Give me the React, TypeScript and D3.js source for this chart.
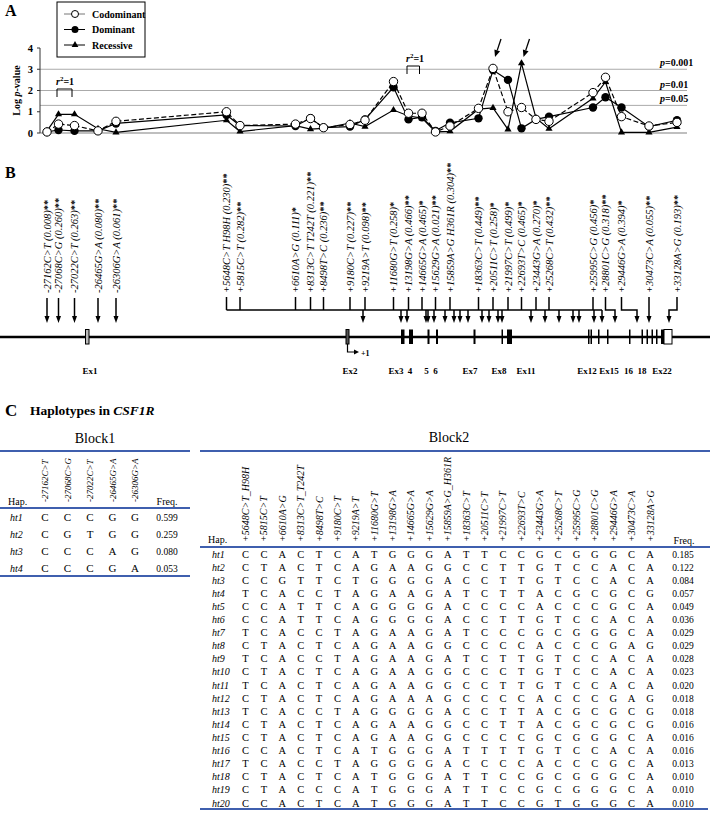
import React from "react";
import * as d3 from "d3";

// ---------- DATA ----------
// Panel A / B: 28 SNPs (block1: 5, block2: 23), positions along the schematic track
const snpTrackPos = [47, 58.5, 74.5, 98, 116, 226.5, 240, 295.5, 310.5, 323.5, 350, 365, 393.5, 408.5, 422, 435.5, 450, 478.5, 493, 508, 521.5, 536, 549, 593, 605.5, 621.5, 649, 677];
const codominant = [0.05, 0.42, 0.35, 0.1, 0.55, 1.0, 0.35, 0.42, 0.68, 0.25, 0.4, 0.6, 2.42, 0.93, 0.93, 0.05, 0.33, 1.16, 3.04, 1.0, 1.2, 0.64, 0.55, 1.9, 2.62, 0.77, 0.33, 0.5];
const dominant = [0.05, 0.14, 0.1, 0.1, 0.45, 0.85, 0.35, 0.33, 0.7, 0.25, 0.3, 0.64, 2.15, 0.64, 0.74, 0.1, 0.48, 0.69, 2.96, 2.5, 0.22, 0.64, 0.77, 1.2, 1.68, 1.2, 0.3, 0.6];
const recessive = [0.1, 0.88, 0.88, 0.2, 0.03, 0.6, 0.07, 0.35, 0.18, 0.22, 0.47, 0.3, 1.08, 0.8, 0.7, 0.05, 0.08, 1.12, 1.18, 0.17, 3.28, 0.7, 0.2, 1.63, 2.4, 0.03, 0.03, 0.28];
const yTicks = [0, 1, 2, 3, 4];
const pLines = [{ v: 3, label: "0.001" }, { v: 2, label: "0.01" }, { v: 1.3, label: "0.05" }];
const ldPairs = [[1, 2], [13, 14]];
const highlighted = [{ i: 18, series: "codominant" }, { i: 20, series: "recessive" }];

const bAlleles = ["-27162C>T", "-27068C>G", "-27022C>T", "-26465G>A", "-26306G>A", "+5648C>T H98H", "+5815C>T", "+6610A>G", "+8313C>T T242T", "+8498T>C", "+9180C>T", "+9219A>T", "+11680G>T", "+13198G>A", "+14665G>A", "+15629G>A", "+15859A>G H361R", "+18363C>T", "+20511C>T", "+21997C>T", "+22693T>C", "+23443G>A", "+25268C>T", "+25995C>G", "+28801C>G", "+29446G>A", "+30473C>A", "+33128A>G"];
const maf = [0.008, 0.260, 0.263, 0.080, 0.061, 0.230, 0.282, 0.111, 0.221, 0.236, 0.227, 0.098, 0.258, 0.466, 0.465, 0.021, 0.304, 0.449, 0.258, 0.499, 0.465, 0.270, 0.432, 0.456, 0.318, 0.394, 0.055, 0.193];
const stars = ["**", "**", "**", "**", "**", "**", "**", "*", "**", "**", "**", "**", "*", "**", "*", "**", "**", "**", "*", "*", "*", "*", "**", "*", "**", "*", "**", "**"];
// positions of the arrows on the gene for block2 SNPs
const geneArrowPos = [363, 401, 407, 426, 428, 434, 445, 454, 460, 468, 482, 489, 498, 502, 531, 545, 559, 573, 579, 594, 602, 615, 637, 649, 669];
// exons: [start, end, fill]
const exons: [number, number, string][] = [
  [85.5, 89, "#bbb"], [346, 349, "#555"], [401, 404.5, "#000"], [409, 413, "#000"], [427.5, 429.5, "#000"], [436, 438, "#000"],
  [473.5, 475.5, "#000"], [501.5, 503, "#000"], [507, 512, "#000"], [588, 589.5, "#000"], [590.5, 592, "#000"], [598, 599.5, "#000"],
  [607, 608.5, "#000"], [629, 630.5, "#000"], [641.5, 643, "#000"], [646.5, 648, "#000"], [651.5, 653, "#000"], [656, 657.5, "#000"],
  [661, 664, "#000"], [664, 672, "#fff"],
];
const exonLabels: [string, number][] = [["Ex1", 90], ["Ex2", 350], ["Ex3", 396], ["4", 410], ["5", 426.5], ["6", 435.5], ["Ex7", 470], ["Ex8", 499], ["Ex11", 526], ["Ex12", 587], ["Ex15", 609], ["16", 628.5], ["18", 642], ["Ex22", 662]];

// Panel C
const block1Snps = ["-27162C>T", "-27068C>G", "-27022C>T", "-26465G>A", "-26306G>A"];
const block1Haps = ["CCCGG", "CGTGG", "CCCAG", "CCCGA"];
const block1Freq = [0.599, 0.259, 0.080, 0.053];
const block2Snps = ["+5648C>T_H98H", "+5815C>T", "+6610A>G", "+8313C>T_T242T", "+8498T>C", "+9180C>T", "+9219A>T", "+11680G>T", "+13198G>A", "+14665G>A", "+15629G>A", "+15859A>G_H361R", "+18363C>T", "+20511C>T", "+21997C>T", "+22693T>C", "+23443G>A", "+25268C>T", "+25995C>G", "+28801C>G", "+29446G>A", "+30473C>A", "+33128A>G"];
const block2Haps = [
  "CCACTCATGGGATTCCGCGGGCA", "CTACTCAGAAGGCCTTGTCCACA", "CCGTTCTGGGGACCTTGTCCACA", "TCACCTAGAAGATCTTACGCGCG",
  "CCATTCAGGGGACCCCACCCGCA", "CCATTCAGGGGACCTTGTCCACA", "TCACCTAGAAGATCCCGCGGGCA", "CTACTCAGAAGGCCCCACCCGAG",
  "TCACCTAGAAGATCTTGTCCACA", "CTACTCAGAAGGCCCTGTCCACA", "TCACTCAGAAGGCCTTGTCCACA", "CTACTCAGAAAGCCCCACCCGAG",
  "TCACCTAGGGGACCTTACGCGCG", "CTACTCAGAAGGCCTTACGCGCG", "CTACTCAGAAGGCCCCGCGGGCA", "CCACTCATGGGATTTTGTCCACA",
  "TCACCTAGGGGACCCCACCCGCA", "CTACTCATGGGATTCCGCGGGCA", "CTACCCATGGGATTCCGCGGGCA", "CCACTCATGGGATTCCGTGGGCA",
];
const block2Freq = [0.185, 0.122, 0.084, 0.057, 0.049, 0.036, 0.029, 0.029, 0.028, 0.023, 0.020, 0.018, 0.018, 0.016, 0.016, 0.016, 0.013, 0.010, 0.010, 0.010];

// ---------- DRAWING ----------
const serif = "'Liberation Serif', 'Times New Roman', serif";
const blue = "#3f5fae";
const fmt3 = d3.format(".3f");

function arrowHead(x: number, y: number, w = 5, h = 7) {
  return `M${x - w / 2},${y - h}L${x + w / 2},${y - h}L${x},${y}Z`;
}

export default function App() {
  const x = d3.scaleLinear().domain([0, 710]).range([0, 710]);
  const y = d3.scaleLinear().domain([0, 4]).range([133, 48]);
  const idx = d3.range(snpTrackPos.length);
  const mkLine = (vals: number[]) => d3.line<number>().x(i => x(snpTrackPos[i])).y(i => y(vals[i]))(idx) || "";
  const tri = d3.symbol(d3.symbolTriangle, 22)() || "";
  const triLegend = d3.symbol(d3.symbolTriangle, 20)() || "";

  const nB1 = 5;
  const barY = 310;
  const b2Count = bAlleles.length - nB1;
  // last 4 block2 labels connect to the last 4 gene arrows via connectors
  const connectedStart = b2Count - 4;

  const c1x = d3.scaleLinear().domain([0, block1Snps.length - 1]).range([45, 135]);
  const r1y = d3.scaleLinear().domain([0, block1Haps.length - 1]).range([517, 568]);
  const c2x = d3.scaleLinear().domain([0, block2Snps.length - 1]).range([245.5, 650]);
  const r2y = d3.scaleLinear().domain([0, block2Haps.length - 1]).range([554, 803]);

  return (
    <svg width={710} height={823} style={{ position: "absolute", left: 0, top: 0, background: "#fff" }} fontFamily={serif}>
      <rect width={710} height={823} fill="#fff" />
      {/* ---------------- Panel A ---------------- */}
      <text x={5} y={16} fontSize={16} fontWeight="bold">A</text>
      {pLines.map(p => (
        <line key={p.v} x1={x(40)} x2={x(687)} y1={y(p.v)} y2={y(p.v)} stroke="#aaa" strokeWidth={1} />
      ))}
      <line x1={x(40)} x2={x(687)} y1={y(0)} y2={y(0)} stroke="#aaa" strokeWidth={1.6} />
      {pLines.map(p => (
        <text key={"pl" + p.v} x={660} y={y(p.v) - 3} fontSize={10} fontWeight="bold">
          <tspan fontStyle="italic">p</tspan>={p.label}
        </text>
      ))}
      <line x1={40} x2={40} y1={y(4)} y2={y(0)} stroke="#333" strokeWidth={1} />
      {yTicks.map(t => (
        <g key={t}>
          <line x1={37} x2={40} y1={y(t)} y2={y(t)} stroke="#333" />
          <text x={33} y={y(t) + 3.5} fontSize={10.5} fontWeight="bold" textAnchor="end">{t}</text>
        </g>
      ))}
      <text transform={`translate(20,${y(2)}) rotate(-90)`} fontSize={10} fontWeight="bold" textAnchor="middle">
        Log <tspan fontStyle="italic">p</tspan>-value
      </text>
      <path d={mkLine(dominant)} fill="none" stroke="#000" strokeWidth={1.2} />
      <path d={mkLine(recessive)} fill="none" stroke="#000" strokeWidth={1.2} />
      <path d={mkLine(codominant)} fill="none" stroke="#000" strokeWidth={1.2} strokeDasharray="5,2.5" />
      {idx.map(i => (
        <circle key={"d" + i} cx={x(snpTrackPos[i])} cy={y(dominant[i])} r={4.2} fill="#000" />
      ))}
      {idx.map(i => (
        <path key={"r" + i} d={tri} transform={`translate(${x(snpTrackPos[i])},${y(recessive[i])})`} fill="#000" />
      ))}
      {idx.map(i => (
        <circle key={"c" + i} cx={x(snpTrackPos[i])} cy={y(codominant[i])} r={4.2} fill="#fff" stroke="#000" strokeWidth={1} />
      ))}
      {ldPairs.map(([a, b], k) => {
        const x0 = x(snpTrackPos[a]) - 1.5, x1 = x(snpTrackPos[b]) - 2.5;
        const top = k === 0 ? 89 : 66;
        return (
          <g key={"ld" + k}>
            <path d={`M${x0},${top + 8}V${top}H${x1}V${top + 8}`} fill="none" stroke="#000" strokeWidth={1} />
            <text x={x0 - 1} y={top - 4} fontSize={10} fontWeight="bold">
              <tspan fontStyle="italic">r</tspan><tspan fontSize={7} dy={-4}>2</tspan><tspan dy={4}>=1</tspan>
            </text>
          </g>
        );
      })}
      {highlighted.map((h, k) => {
        const px = x(snpTrackPos[h.i]) + 2;
        const tipY = 57;
        const sx = px + 6, sy = 39;
        const ang = Math.atan2(tipY - sy, px - sx);
        const hl = 7, hw = 3;
        const bx = px - hl * Math.cos(ang), by = tipY - hl * Math.sin(ang);
        const nx = -Math.sin(ang) * hw, ny = Math.cos(ang) * hw;
        return (
          <g key={"ha" + k}>
            <line x1={sx} y1={sy} x2={bx} y2={by} stroke="#000" strokeWidth={1.3} />
            <path d={`M${px},${tipY}L${bx + nx},${by + ny}L${bx - nx},${by - ny}Z`} fill="#000" />
          </g>
        );
      })}
      <rect x={57} y={2} width={88} height={55} fill="#fff" stroke="#000" strokeWidth={1} />
      {["Codominant", "Dominant", "Recessive"].map((name, k) => {
        const ly = 14 + k * 15.5;
        return (
          <g key={name}>
            <line x1={64} x2={85} y1={ly} y2={ly} stroke={k === 0 ? "#777" : "#000"} strokeWidth={1} />
            {k === 0 && <circle cx={75} cy={ly} r={3.5} fill="#fff" stroke="#000" />}
            {k === 1 && <circle cx={75} cy={ly} r={3.5} fill="#000" />}
            {k === 2 && <path d={triLegend} transform={`translate(75,${ly})`} fill="#000" />}
            <text x={92} y={ly + 3.5} fontSize={10} fontWeight="bold">{name}</text>
          </g>
        );
      })}

      {/* ---------------- Panel B ---------------- */}
      <text x={5} y={178} fontSize={16} fontWeight="bold">B</text>
      {bAlleles.map((a, i) => (
        <text key={"bl" + i} transform={`translate(${x(snpTrackPos[i]) + 3.5},293) rotate(-90)`} fontSize={10.5}>
          <tspan fontStyle="italic">{a} ({fmt3(maf[i])})</tspan><tspan fontWeight="bold">{stars[i]}</tspan>
        </text>
      ))}
      {d3.range(nB1).map(i => (
        <g key={"ba" + i}>
          <line x1={x(snpTrackPos[i])} x2={x(snpTrackPos[i])} y1={298} y2={317} stroke="#000" strokeWidth={1.5} />
          <path d={arrowHead(x(snpTrackPos[i]), 323)} fill="#000" />
        </g>
      ))}
      <line x1={x(snpTrackPos[nB1])} x2={x(geneArrowPos[20])} y1={barY} y2={barY} stroke="#000" strokeWidth={1.5} />
      {d3.range(b2Count).map(j => {
        const i = nB1 + j;
        const lx = x(snpTrackPos[i]);
        if (j < connectedStart) {
          return <line key={"bt" + j} x1={lx} x2={lx} y1={297} y2={barY} stroke="#000" strokeWidth={1.5} />;
        }
        const ax = x(geneArrowPos[geneArrowPos.length - (b2Count - j)]);
        return (
          <path key={"bt" + j} d={`M${lx},297V${barY}H${ax}V317`} fill="none" stroke="#000" strokeWidth={1.5} />
        );
      })}
      {geneArrowPos.map((g, k) => (
        <g key={"ga" + k}>
          {k < geneArrowPos.length - 4 && <line x1={x(g)} x2={x(g)} y1={barY} y2={317} stroke="#000" strokeWidth={1.5} />}
          <path d={arrowHead(x(g), 323)} fill="#000" />
        </g>
      ))}
      <line x1={0} x2={710} y1={337} y2={337} stroke="#000" strokeWidth={2.5} />
      {exons.map(([s, e, f], k) => (
        <rect key={"ex" + k} x={x(s)} y={329.5} width={x(e) - x(s)} height={14.5} fill={f} stroke="#000" strokeWidth={f === "#000" ? 0 : 1} />
      ))}
      <path d={`M${x(347.5)},344V352H${x(355)}`} fill="none" stroke="#000" strokeWidth={1.2} />
      <path d={`M${x(359)},352L${x(354)},349.5L${x(354)},354.5Z`} fill="#000" />
      <text x={x(361)} y={356} fontSize={8} fontWeight="bold">+1</text>
      {exonLabels.map(([t, c]) => (
        <text key={t} x={x(c)} y={374} fontSize={9} fontWeight="bold" textAnchor="middle">{t}</text>
      ))}

      {/* ---------------- Panel C ---------------- */}
      <text x={5} y={416} fontSize={17} fontWeight="bold">C</text>
      <text x={30} y={415} fontSize={13.5} fontWeight="bold">
        Haplotypes in <tspan fontStyle="italic">CSF1R</tspan>
      </text>
      <text x={95} y={443} fontSize={14} textAnchor="middle">Block1</text>
      <line x1={0} x2={190} y1={451} y2={451} stroke={blue} strokeWidth={1.8} />
      {block1Snps.map((s, k) => (
        <text key={"h1" + k} transform={`translate(${c1x(k) + 3},502) rotate(-90)`} fontSize={9} fontStyle="italic">{s}</text>
      ))}
      <text x={8} y={505} fontSize={10}>Hap.</text>
      <text x={167} y={505} fontSize={10} textAnchor="middle">Freq.</text>
      <line x1={0} x2={190} y1={508} y2={508} stroke={blue} strokeWidth={1.8} />
      {block1Haps.map((h, r) => (
        <g key={"r1" + r}>
          <text x={10} y={r1y(r) + 3.5} fontSize={10} fontStyle="italic">ht{r + 1}</text>
          {h.split("").map((ch, c) => (
            <text key={c} x={c1x(c)} y={r1y(r) + 3.5} fontSize={11} textAnchor="middle">{ch}</text>
          ))}
          <text x={167} y={r1y(r) + 3.5} fontSize={9.5} textAnchor="middle">{fmt3(block1Freq[r])}</text>
        </g>
      ))}
      <line x1={0} x2={190} y1={576} y2={576} stroke={blue} strokeWidth={1.8} />
      <text x={449} y={442} fontSize={14} textAnchor="middle">Block2</text>
      <line x1={200} x2={710} y1={451} y2={451} stroke={blue} strokeWidth={1.8} />
      {block2Snps.map((s, k) => (
        <text key={"h2" + k} transform={`translate(${c2x(k) + 3.5},542) rotate(-90)`} fontSize={10} fontStyle="italic">{s}</text>
      ))}
      <text x={208} y={543} fontSize={10}>Hap.</text>
      <text x={684} y={544} fontSize={10} textAnchor="middle">Freq.</text>
      <line x1={200} x2={710} y1={547} y2={547} stroke={blue} strokeWidth={1.8} />
      {block2Haps.map((h, r) => (
        <g key={"r2" + r}>
          <text x={212} y={r2y(r) + 3.5} fontSize={10} fontStyle="italic">ht{r + 1}</text>
          {h.split("").map((ch, c) => (
            <text key={c} x={c2x(c)} y={r2y(r) + 3.5} fontSize={10.5} textAnchor="middle">{ch}</text>
          ))}
          <text x={683} y={r2y(r) + 3.5} fontSize={9.5} textAnchor="middle">{fmt3(block2Freq[r])}</text>
        </g>
      ))}
      <line x1={200} x2={708} y1={809} y2={809} stroke={blue} strokeWidth={1.8} />
    </svg>
  );
}
